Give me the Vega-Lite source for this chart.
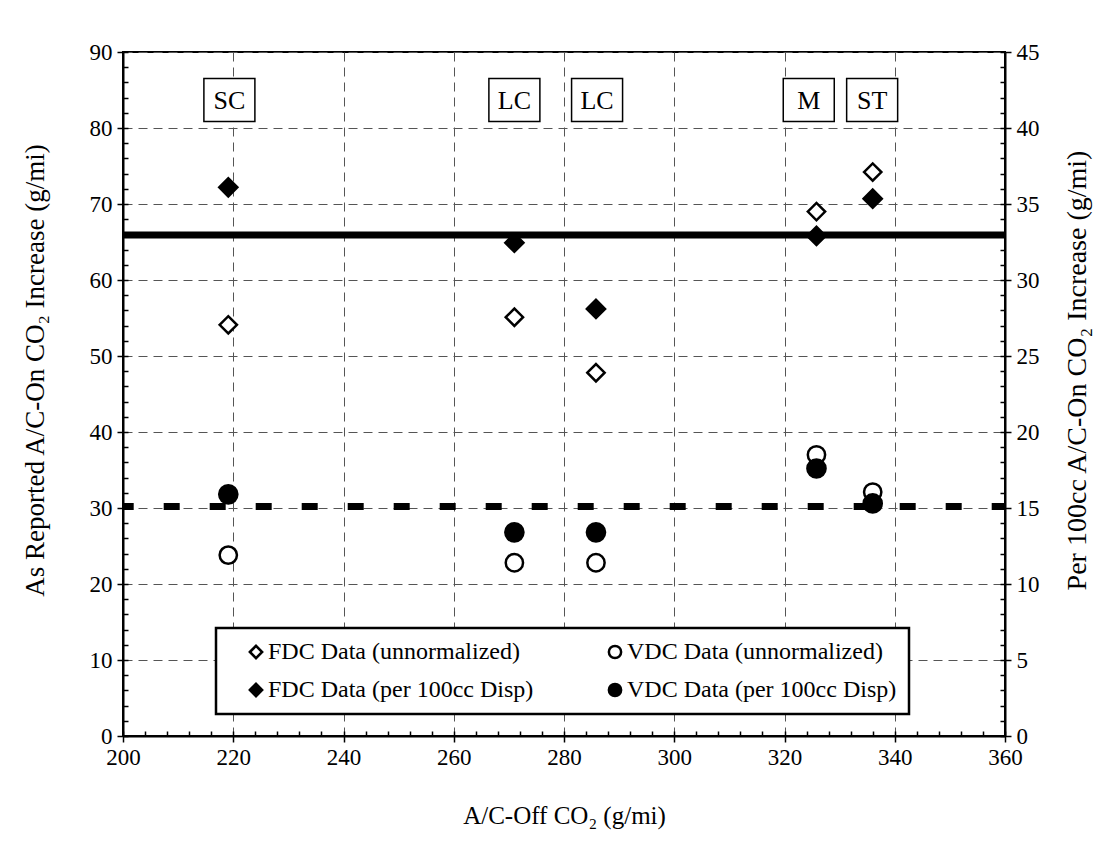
{
  "$schema": "https://vega.github.io/schema/vega-lite/v6.json",
  "width": 882,
  "height": 684,
  "autosize": {"type": "none"},
  "padding": {"left": 123, "top": 52, "right": 92, "bottom": 112},
  "background": "white",
  "config": {
    "font": "Liberation Serif",
    "view": {"stroke": "black", "strokeWidth": 2},
    "axis": {
      "labelFont": "Liberation Serif",
      "titleFont": "Liberation Serif",
      "labelColor": "black",
      "titleColor": "black",
      "titleFontWeight": "normal",
      "labelFontSize": 23,
      "titleFontSize": 25,
      "labelFlush": false,
      "labelOverlap": false,
      "domainColor": "black",
      "domainWidth": 2,
      "tickColor": "black",
      "tickWidth": 1.5,
      "gridColor": "#555555",
      "gridDash": [9, 6],
      "gridWidth": 1
    },
    "legend": {
      "orient": "none",
      "legendX": 93,
      "legendY": 576,
      "direction": "horizontal",
      "columns": 2,
      "labelFont": "Liberation Serif",
      "labelFontSize": 24,
      "labelColor": "black",
      "labelLimit": 400,
      "labelOffset": 0,
      "symbolSize": 150,
      "symbolStrokeWidth": 2.5,
      "strokeColor": "black",
      "strokeWidth": 2.5,
      "fillColor": "white",
      "padding": 12,
      "rowPadding": 14,
      "columnPadding": 69,
      "titleOrient": "left",
      "titleFontSize": 24,
      "titlePadding": 16
    }
  },
  "datasets": {
    "unnormalized": [
      {"vehicle": "SC", "acOff": 219.1, "increase": 54.1, "series": "FDC Data (unnormalized)"},
      {"vehicle": "SC", "acOff": 219.1, "increase": 23.8, "series": "VDC Data (unnormalized)"},
      {"vehicle": "LC", "acOff": 271.0, "increase": 55.1, "series": "FDC Data (unnormalized)"},
      {"vehicle": "LC", "acOff": 271.0, "increase": 22.8, "series": "VDC Data (unnormalized)"},
      {"vehicle": "LC", "acOff": 285.8, "increase": 47.8, "series": "FDC Data (unnormalized)"},
      {"vehicle": "LC", "acOff": 285.8, "increase": 22.8, "series": "VDC Data (unnormalized)"},
      {"vehicle": "M", "acOff": 325.8, "increase": 69.0, "series": "FDC Data (unnormalized)"},
      {"vehicle": "M", "acOff": 325.8, "increase": 37.0, "series": "VDC Data (unnormalized)"},
      {"vehicle": "ST", "acOff": 336.0, "increase": 74.2, "series": "FDC Data (unnormalized)"},
      {"vehicle": "ST", "acOff": 336.0, "increase": 32.1, "series": "VDC Data (unnormalized)"}
    ],
    "per100cc": [
      {"vehicle": "SC", "acOff": 219.1, "increase": 36.1, "series": "FDC Data (per 100cc Disp)"},
      {"vehicle": "SC", "acOff": 219.1, "increase": 15.9, "series": "VDC Data (per 100cc Disp)"},
      {"vehicle": "LC", "acOff": 271.0, "increase": 32.45, "series": "FDC Data (per 100cc Disp)"},
      {"vehicle": "LC", "acOff": 271.0, "increase": 13.4, "series": "VDC Data (per 100cc Disp)"},
      {"vehicle": "LC", "acOff": 285.8, "increase": 28.1, "series": "FDC Data (per 100cc Disp)"},
      {"vehicle": "LC", "acOff": 285.8, "increase": 13.4, "series": "VDC Data (per 100cc Disp)"},
      {"vehicle": "M", "acOff": 325.8, "increase": 32.9, "series": "FDC Data (per 100cc Disp)"},
      {"vehicle": "M", "acOff": 325.8, "increase": 17.6, "series": "VDC Data (per 100cc Disp)"},
      {"vehicle": "ST", "acOff": 336.0, "increase": 35.35, "series": "FDC Data (per 100cc Disp)"},
      {"vehicle": "ST", "acOff": 336.0, "increase": 15.3, "series": "VDC Data (per 100cc Disp)"}
    ],
    "averages": [
      {"measure": "FDC average (per 100cc)", "increase": 32.96},
      {"measure": "VDC average (per 100cc)", "increase": 15.1}
    ],
    "classes": [
      {"label": "SC", "acOff": 219.3, "level": 83.7},
      {"label": "LC", "acOff": 271.0, "level": 83.7},
      {"label": "LC", "acOff": 286.0, "level": 83.7},
      {"label": "M", "acOff": 324.4, "level": 83.7},
      {"label": "ST", "acOff": 335.9, "level": 83.7}
    ]
  },
  "layer": [
    {
      "data": {"name": "averages"},
      "mark": {"type": "rule", "color": "black", "strokeWidth": 7, "strokeDashOffset": 2.7},
      "encoding": {
        "y": {
          "field": "increase",
          "type": "quantitative",
          "scale": {"domain": [0, 45], "nice": false, "zero": true},
          "axis": {
            "orient": "right",
            "values": [0,1,2,3,4,5,6,7,8,9,10,11,12,13,14,15,16,17,18,19,20,21,22,23,24,25,26,27,28,29,30,31,32,33,34,35,36,37,38,39,40,41,42,43,44,45],
            "labels": false,
            "domain": false,
            "grid": false,
            "tickSize": -5,
            "title": null
          }
        },
        "strokeDash": {
          "field": "measure",
          "type": "nominal",
          "scale": {"domain": ["FDC average (per 100cc)", "VDC average (per 100cc)"], "range": [[1, 0], [16, 30]]},
          "legend": null
        }
      }
    },
    {
      "data": {"name": "classes"},
      "mark": {
        "type": "point",
        "shape": "M-1,-0.843L1,-0.843L1,0.843L-1,0.843Z",
        "size": 2601,
        "filled": true,
        "fill": "white",
        "stroke": "black",
        "strokeWidth": 1.5,
        "opacity": 1
      },
      "encoding": {
        "x": {
          "field": "acOff",
          "type": "quantitative",
          "scale": {"domain": [200, 360], "nice": false, "zero": false},
          "axis": {
            "orient": "bottom",
            "values": [200,204,208,212,216,220,224,228,232,236,240,244,248,252,256,260,264,268,272,276,280,284,288,292,296,300,304,308,312,316,320,324,328,332,336,340,344,348,352,356,360],
            "labels": false,
            "domain": false,
            "grid": false,
            "tickSize": -5,
            "title": null
          }
        },
        "y": {
          "field": "level",
          "type": "quantitative",
          "scale": {"domain": [0, 90], "nice": false, "zero": true},
          "axis": {
            "orient": "left",
            "values": [0,2,4,6,8,10,12,14,16,18,20,22,24,26,28,30,32,34,36,38,40,42,44,46,48,50,52,54,56,58,60,62,64,66,68,70,72,74,76,78,80,82,84,86,88,90],
            "labels": false,
            "domain": false,
            "grid": false,
            "tickSize": -5,
            "title": null
          }
        }
      }
    },
    {
      "data": {"name": "classes"},
      "mark": {"type": "text", "font": "Liberation Serif", "fontSize": 26, "color": "black", "align": "center", "baseline": "middle", "dy": 1},
      "encoding": {
        "x": {"field": "acOff", "type": "quantitative", "axis": null},
        "y": {"field": "level", "type": "quantitative", "scale": {"domain": [0, 90], "nice": false, "zero": true}, "axis": null},
        "text": {"field": "label", "type": "nominal"}
      }
    },
    {
      "data": {"name": "unnormalized"},
      "mark": {"type": "point", "filled": false, "size": 300, "strokeWidth": 2.5, "opacity": 1},
      "encoding": {
        "x": {
          "field": "acOff",
          "type": "quantitative",
          "axis": {
            "orient": "bottom",
            "values": [200, 220, 240, 260, 280, 300, 320, 340, 360],
            "tickSize": 6,
            "labelPadding": 4,
            "grid": true,
            "title": "A/C-Off CO₂ (g/mi)",
            "titlePadding": 34
          }
        },
        "y": {
          "field": "increase",
          "type": "quantitative",
          "scale": {"domain": [0, 90], "nice": false, "zero": true},
          "axis": {
            "orient": "left",
            "values": [0, 10, 20, 30, 40, 50, 60, 70, 80, 90],
            "tickSize": 6,
            "labelPadding": 5,
            "grid": true,
            "title": "As Reported A/C-On CO₂ Increase (g/mi)",
            "titleFontSize": 27,
            "titlePadding": 40,
            "titleY": 318
          }
        },
        "shape": {
          "field": "series",
          "type": "nominal",
          "scale": {
            "domain": ["FDC Data (unnormalized)", "VDC Data (unnormalized)", "FDC Data (per 100cc Disp)", "VDC Data (per 100cc Disp)"],
            "range": ["diamond", "circle", "diamond", "circle"]
          },
          "legend": {"title": " "}
        },
        "fill": {
          "field": "series",
          "type": "nominal",
          "scale": {
            "domain": ["FDC Data (unnormalized)", "VDC Data (unnormalized)", "FDC Data (per 100cc Disp)", "VDC Data (per 100cc Disp)"],
            "range": ["white", "white", "black", "black"]
          },
          "legend": {"title": " "}
        },
        "stroke": {
          "field": "series",
          "type": "nominal",
          "scale": {
            "domain": ["FDC Data (unnormalized)", "VDC Data (unnormalized)", "FDC Data (per 100cc Disp)", "VDC Data (per 100cc Disp)"],
            "range": ["black", "black", "black", "black"]
          },
          "legend": {"title": " "}
        }
      }
    },
    {
      "data": {"name": "per100cc"},
      "mark": {"type": "point", "filled": false, "size": 330, "strokeWidth": 2.5, "opacity": 1},
      "encoding": {
        "x": {"field": "acOff", "type": "quantitative", "axis": null},
        "y": {
          "field": "increase",
          "type": "quantitative",
          "scale": {"domain": [0, 45], "nice": false, "zero": true},
          "axis": {
            "orient": "right",
            "values": [0, 5, 10, 15, 20, 25, 30, 35, 40, 45],
            "tickSize": 6,
            "labelPadding": 5,
            "grid": false,
            "title": "Per 100cc A/C-On CO₂ Increase (g/mi)",
            "titleFontSize": 28,
            "titleAngle": -90,
            "titleBaseline": "top",
            "titlePadding": 24,
            "titleY": 318
          }
        },
        "shape": {
          "field": "series",
          "type": "nominal",
          "scale": {
            "domain": ["FDC Data (unnormalized)", "VDC Data (unnormalized)", "FDC Data (per 100cc Disp)", "VDC Data (per 100cc Disp)"],
            "range": ["diamond", "circle", "diamond", "circle"]
          },
          "legend": {"title": " "}
        },
        "fill": {
          "field": "series",
          "type": "nominal",
          "scale": {
            "domain": ["FDC Data (unnormalized)", "VDC Data (unnormalized)", "FDC Data (per 100cc Disp)", "VDC Data (per 100cc Disp)"],
            "range": ["white", "white", "black", "black"]
          },
          "legend": {"title": " "}
        },
        "stroke": {
          "field": "series",
          "type": "nominal",
          "scale": {
            "domain": ["FDC Data (unnormalized)", "VDC Data (unnormalized)", "FDC Data (per 100cc Disp)", "VDC Data (per 100cc Disp)"],
            "range": ["black", "black", "black", "black"]
          },
          "legend": {"title": " "}
        }
      }
    }
  ],
  "resolve": {
    "scale": {"y": "independent"},
    "axis": {"x": "independent", "y": "independent"}
  }
}
